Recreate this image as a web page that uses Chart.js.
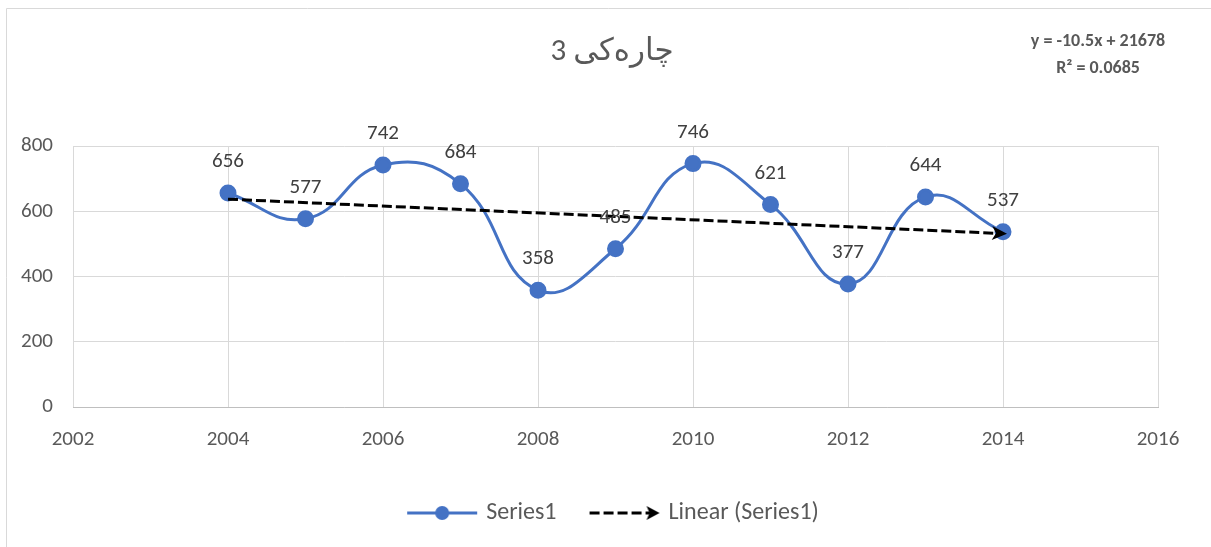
<!DOCTYPE html>
<html>
<head>
<meta charset="utf-8">
<script src="https://cdn.jsdelivr.net/npm/chart.js@4.4.0/dist/chart.umd.min.js"></script>
<style>
  body { margin: 0; background: #fff; }
  #wrap { width: 1211px; height: 547px; position: relative; }
</style>
</head>
<body>
<div id="wrap"><canvas id="c" width="1211" height="547"></canvas></div>
<script>
const years = [2004, 2005, 2006, 2007, 2008, 2009, 2010, 2011, 2012, 2013, 2014];
const values = [656, 577, 742, 684, 358, 485, 746, 621, 377, 644, 537];
const titleText = 'چارەکی 3';
const equationLines = ['y = -10.5x + 21678', 'R² = 0.0685'];
const seriesName = 'Series1';
const trendName = 'Linear (Series1)';

const FONT = 'Carlito, Calibri, Lato, "DejaVu Sans", sans-serif';
const BLUE = '#4472C4';
const DASH = [10, 4];

// least squares trend from the data
const n = years.length;
const mx = years.reduce((a, b) => a + b, 0) / n;
const my = values.reduce((a, b) => a + b, 0) / n;
let sxy = 0, sxx = 0;
years.forEach((x, i) => { sxy += (x - mx) * (values[i] - my); sxx += (x - mx) * (x - mx); });
const slope = sxy / sxx;
const icpt = my - slope * mx;
const trendPts = [years[0], years[n - 1]].map(x => ({ x: x, y: slope * x + icpt }));

function legendIcon(kind) {
  const cv = document.createElement('canvas');
  cv.width = 72; cv.height = 16;
  const g = cv.getContext('2d');
  if (kind === 'series') {
    g.strokeStyle = BLUE; g.lineWidth = 3;
    g.beginPath(); g.moveTo(1, 8); g.lineTo(71, 8); g.stroke();
    g.fillStyle = BLUE;
    g.beginPath(); g.arc(36, 8, 7, 0, Math.PI * 2); g.fill();
  } else {
    g.strokeStyle = '#000'; g.lineWidth = 3; g.setLineDash(DASH);
    g.beginPath(); g.moveTo(1, 8); g.lineTo(62, 8); g.stroke();
    g.setLineDash([]); g.fillStyle = '#000';
    g.beginPath(); g.moveTo(71, 8); g.lineTo(58, 1); g.lineTo(61, 8); g.lineTo(58, 15); g.closePath(); g.fill();
  }
  return cv;
}
const icons = [legendIcon('series'), legendIcon('trend')];

const extras = {
  id: 'extras',
  afterDatasetsDraw(chart) {
    const ctx = chart.ctx;
    const xs = chart.scales.x, ys = chart.scales.y;
    // arrow head at the end of the trendline
    const a = trendPts[0], b = trendPts[1];
    const x0 = xs.getPixelForValue(a.x), y0 = ys.getPixelForValue(a.y);
    const x1 = xs.getPixelForValue(b.x), y1 = ys.getPixelForValue(b.y);
    const ang = Math.atan2(y1 - y0, x1 - x0);
    ctx.save();
    ctx.translate(x1, y1); ctx.rotate(ang);
    ctx.fillStyle = '#000';
    ctx.beginPath(); ctx.moveTo(4, 0); ctx.lineTo(-11, -7); ctx.lineTo(-7, 0); ctx.lineTo(-11, 7); ctx.closePath(); ctx.fill();
    ctx.restore();
    // data labels
    ctx.save();
    ctx.font = '21px ' + FONT;
    ctx.fillStyle = '#404040';
    ctx.textAlign = 'center'; ctx.textBaseline = 'middle';
    chart.getDatasetMeta(0).data.forEach((p, i) => {
      ctx.fillText(String(values[i]), p.x, p.y - 31);
    });
    ctx.restore();
  },
  afterDraw(chart) {
    const ctx = chart.ctx;
    ctx.save();
    ctx.fillStyle = '#595959';
    ctx.textAlign = 'center'; ctx.textBaseline = 'middle';
    ctx.font = '31px ' + FONT;
    ctx.fillText(titleText, 612, 52);
    ctx.font = 'bold 18px ' + FONT;
    ctx.fillText(equationLines[0], 1098, 41);
    ctx.fillText(equationLines[1], 1098, 68);
    // chart frame
    ctx.strokeStyle = '#d9d9d9'; ctx.lineWidth = 1;
    ctx.beginPath(); ctx.moveTo(6.5, 547); ctx.lineTo(6.5, 8.5); ctx.lineTo(1211, 8.5); ctx.stroke();
    ctx.restore();
  }
};

new Chart(document.getElementById('c'), {
  type: 'scatter',
  data: {
    datasets: [
      {
        label: seriesName,
        data: years.map((x, i) => ({ x: x, y: values[i] })),
        showLine: true,
        borderColor: BLUE,
        backgroundColor: BLUE,
        borderWidth: 3,
        pointRadius: 7,
        pointHoverRadius: 7,
        tension: 0.45,
        order: 2
      },
      {
        label: trendName,
        data: trendPts,
        showLine: true,
        borderColor: '#000',
        backgroundColor: '#000',
        borderWidth: 3,
        borderDash: DASH,
        pointRadius: 0,
        tension: 0,
        order: 1
      }
    ]
  },
  options: {
    responsive: false,
    animation: false,
    layout: { padding: { left: 18, right: 0, top: 146, bottom: 12 } },
    plugins: {
      tooltip: { enabled: false },
      title: { display: false },
      legend: {
        position: 'bottom',
        labels: {
          usePointStyle: true,
          pointStyleWidth: 64,
          boxHeight: 16,
          color: '#595959',
          font: { size: 24, family: FONT },
          padding: 36,
          generateLabels(chart) {
            return chart.data.datasets.map((ds, i) => ({
              text: ds.label,
              datasetIndex: i,
              pointStyle: icons[i],
              fillStyle: ds.borderColor,
              strokeStyle: ds.borderColor,
              lineWidth: 0,
              fontColor: '#595959',
              hidden: false
            }));
          }
        }
      }
    },
    scales: {
      x: {
        type: 'linear',
        min: 2002, max: 2016,
        ticks: { stepSize: 2, color: '#595959', font: { size: 21, family: FONT }, padding: 20, callback: v => String(v) },
        grid: { color: '#d9d9d9', drawTicks: false },
        border: { color: '#bfbfbf' },
        afterFit(s) { s.height = 58; }
      },
      y: {
        min: 0, max: 800,
        ticks: { stepSize: 200, color: '#595959', font: { size: 21, family: FONT }, padding: 20 },
        grid: { color: '#d9d9d9', drawTicks: false },
        border: { display: false },
        afterFit(s) { s.width = 55; }
      },
      yRight: {
        position: 'right',
        display: true,
        ticks: { display: false },
        grid: { display: false, drawTicks: false },
        border: { display: false },
        afterFit(s) { s.width = 53; }
      }
    }
  },
  plugins: [extras]
});
</script>
</body>
</html>
